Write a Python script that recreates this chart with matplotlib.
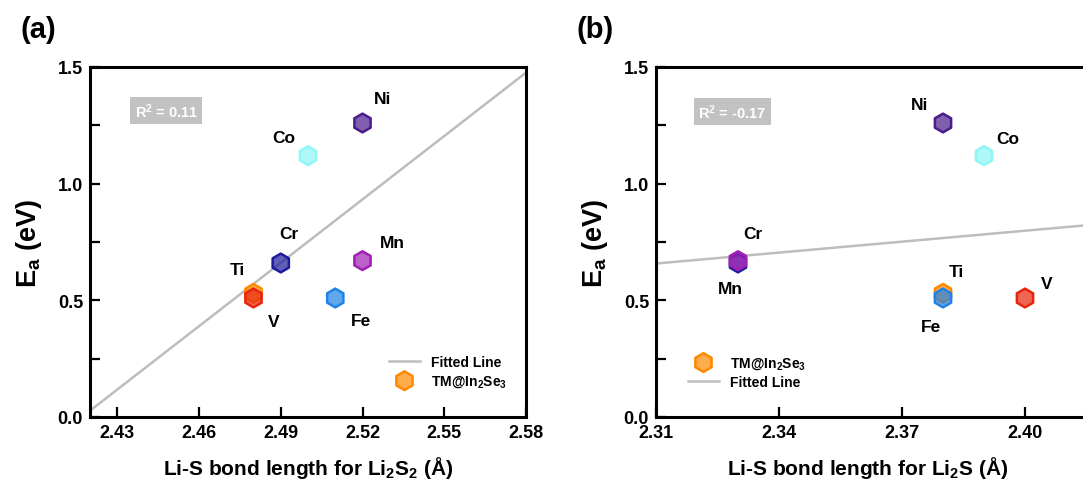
import numpy as np
import matplotlib
matplotlib.use('Agg')
import matplotlib.pyplot as plt
from matplotlib.colors import to_rgba

plt.rcParams['font.family'] = ['Liberation Sans', 'DejaVu Sans']
plt.rcParams['font.weight'] = 'bold'
plt.rcParams['mathtext.fontset'] = 'custom'
plt.rcParams['mathtext.rm'] = 'Liberation Sans:bold'
plt.rcParams['mathtext.bf'] = 'Liberation Sans:bold'
plt.rcParams['mathtext.it'] = 'Liberation Sans:bold:italic'
plt.rcParams['mathtext.sf'] = 'Liberation Sans'
plt.rcParams['mathtext.default'] = 'rm'

# ---- data ----
elements = ['Ti', 'V', 'Cr', 'Mn', 'Fe', 'Co', 'Ni']
ea = [0.53, 0.51, 0.66, 0.67, 0.51, 1.12, 1.26]
li2s2_bond = [2.48, 2.48, 2.49, 2.52, 2.51, 2.50, 2.52]
li2s_bond = [2.38, 2.40, 2.33, 2.33, 2.38, 2.39, 2.38]
edge_colors = ['#FF8A00', '#E8240C', '#1C1C9C', '#A21EB4', '#1E82E6', '#8EF6F6', '#4A1C8C']
r2_a = '0.11'
r2_b = '-0.17'
xticks_a = [2.43, 2.46, 2.49, 2.52, 2.55, 2.58]
xticks_b = [2.31, 2.34, 2.37, 2.40]
yticks_major = [0.0, 0.5, 1.0, 1.5]

# label offsets (pixels)
offs_a = {'Ni': (20, 24), 'Co': (-24, 18), 'Cr': (8, 29), 'Mn': (30, 18),
          'Ti': (-16, 24), 'V': (20, -24), 'Fe': (26, -23)}
offs_b = {'Ni': (-23, 18), 'Co': (24, 17), 'Cr': (15, 29), 'Mn': (-8, -28),
          'Ti': (13, 22), 'Fe': (-12, -29), 'V': (22, 14)}

fig = plt.figure(figsize=(10.83, 4.85), dpi=100)
ax_a = fig.add_axes([90/1083, 67/485, 436/1083, 350/485])
ax_b = fig.add_axes([656/1083, 67/485, 492/1083, 350/485])

face_colors = [to_rgba(c, 0.7) for c in edge_colors]


def panel(ax, xs, xlim, xticks, offs, r2, r2pos, xlabel, legend_order, legloc, legbbox):
    ax.set_xlim(*xlim)
    ax.set_ylim(0, 1.5)
    # fitted line
    k, b = np.polyfit(xs, ea, 1)
    xl = np.array(xlim)
    line, = ax.plot(xl, k * xl + b, color='#BDBDBD', lw=1.8, zorder=1, label='Fitted Line')
    sc = ax.scatter(xs, ea, marker='h', s=13.5**2, facecolors=face_colors,
                    edgecolors=edge_colors, linewidths=1.8, zorder=3,
                    label='TM@In$_2$Se$_3$')
    for el, x, y in zip(elements, xs, ea):
        ax.annotate(el, (x, y), xytext=offs[el], textcoords='offset pixels',
                    ha='center', va='center', fontsize=12.5, fontweight='bold')
    ax.text(r2pos[0], r2pos[1], f'R$^2$ = {r2}', transform=ax.transAxes,
            ha='center', va='center', color='white', fontsize=10.5, fontweight='bold',
            bbox=dict(boxstyle='square,pad=0.3', facecolor='#C2C2C2', edgecolor='none'))
    ax.set_xticks(xticks)
    ax.set_xticklabels([f'{t:.2f}' for t in xticks])
    ax.set_yticks(yticks_major)
    ax.set_yticklabels([f'{t:.1f}' for t in yticks_major])
    ax.set_yticks([0.25, 0.75, 1.25], minor=True)
    ax.tick_params(which='both', direction='in', width=1.6, length=7, labelsize=13, pad=5)
    for lab in ax.get_xticklabels() + ax.get_yticklabels():
        lab.set_fontweight('bold')
    for s in ax.spines.values():
        s.set_linewidth(2.2)
    ax.set_ylabel('E$_a$ (eV)', fontsize=19.5, fontweight='bold', labelpad=10)
    ax.set_xlabel(xlabel, fontsize=15, fontweight='bold')
    handles = [line, sc] if legend_order == 'line_first' else [sc, line]
    ax.legend(handles=handles, loc=legloc, bbox_to_anchor=legbbox, frameon=False,
              prop={'weight': 'bold', 'size': 10}, handlelength=2.2, handletextpad=0.8,
              labelspacing=0.3)


panel(ax_a, li2s2_bond, (2.42, 2.58), xticks_a, offs_a, r2_a, (0.175, 0.876),
      'Li-S bond length for Li$_2$S$_2$ $\\mathsf{(Å)}$', 'line_first', 'lower right', (0.985, 0.045))
panel(ax_b, li2s_bond, (2.31, 2.43), xticks_b, offs_b, r2_b, (0.155, 0.873),
      'Li-S bond length for Li$_2$S $\\mathsf{(Å)}$', 'marker_first', 'lower left', (0.04, 0.045))

ax_a.xaxis.set_label_coords((308 - 90) / 436, -0.105)
ax_b.xaxis.set_label_coords((868 - 656) / 492, -0.105)

fig.text(21/1083, 1 - 30/485, '(a)', fontsize=21, fontweight='bold', va='center', ha='left')
fig.text(576/1083, 1 - 30/485, '(b)', fontsize=21, fontweight='bold', va='center', ha='left')

fig.savefig('out.png', dpi=100)
